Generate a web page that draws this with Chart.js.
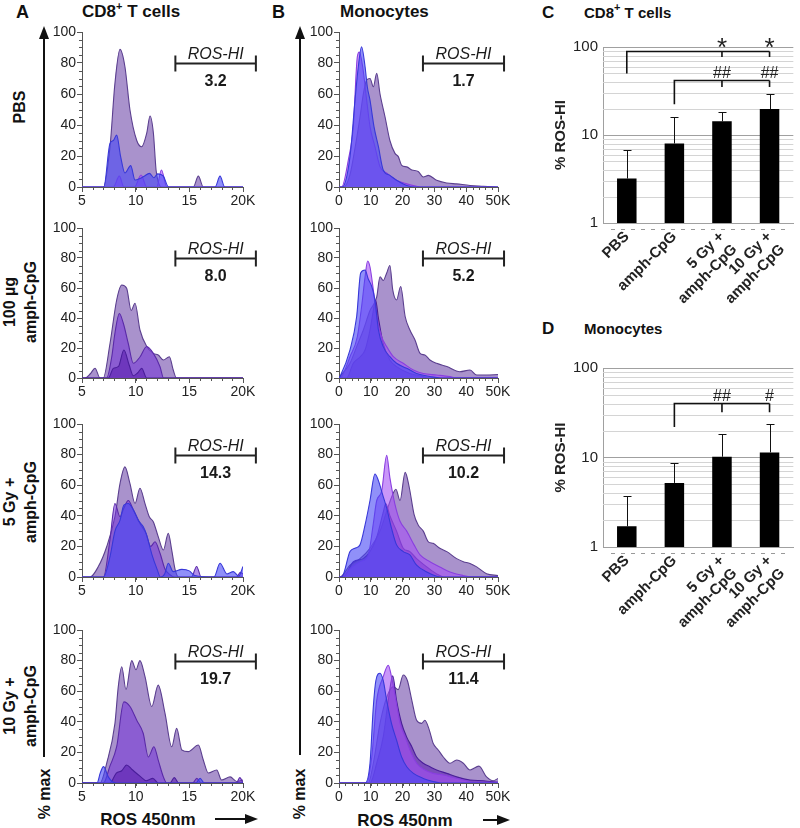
<!DOCTYPE html>
<html><head><meta charset="utf-8">
<script src="https://cdn.jsdelivr.net/npm/chart.js@4.4.1/dist/chart.umd.min.js"></script>
<style>
html,body{margin:0;padding:0;background:#fff;overflow:hidden}
#wrap{position:relative;width:800px;height:828px;font-family:"Liberation Sans",Arial,sans-serif;color:#111}
canvas{position:absolute}
.c{position:absolute;transform:translate(-50%,-50%);white-space:nowrap;font-weight:bold;line-height:1}
.l{position:absolute;white-space:nowrap;font-weight:bold;line-height:1}
.rot{position:absolute;transform:translate(-50%,-50%) rotate(-90deg);white-space:nowrap;font-weight:bold;text-align:center;font-size:16px;line-height:21px}
.ln{position:absolute;background:#111}
.up{position:absolute;width:0;height:0;border-left:5px solid transparent;border-right:5px solid transparent;border-bottom:13px solid #111}
.rt{position:absolute;width:0;height:0;border-top:5px solid transparent;border-bottom:5px solid transparent;border-left:13px solid #111}
sup{font-size:11px;line-height:0;vertical-align:7px}
</style></head>
<body><div id="wrap">
<div class="l" style="left:16px;top:3px;font-size:18px">A</div>
<div class="l" style="left:82px;top:3px;font-size:17px">CD8<sup>+</sup> T cells</div>
<div class="l" style="left:272px;top:3px;font-size:18px">B</div>
<div class="l" style="left:340px;top:3px;font-size:17px">Monocytes</div>
<div class="l" style="left:542px;top:4px;font-size:17px">C</div>
<div class="l" style="left:584px;top:5px;font-size:15px">CD8<sup>+</sup> T cells</div>
<div class="l" style="left:542px;top:320px;font-size:17px">D</div>
<div class="l" style="left:584px;top:321px;font-size:15px">Monocytes</div>

<div class="rot" style="left:19px;top:107px">PBS</div>
<div class="rot" style="left:20px;top:302px">100 µg<br>amph-CpG</div>
<div class="rot" style="left:20px;top:502px">5 Gy +<br>amph-CpG</div>
<div class="rot" style="left:20px;top:706px">10 Gy +<br>amph-CpG</div>

<div class="ln" style="left:43px;top:36px;width:1.6px;height:721px"></div>
<div class="up" style="left:39px;top:26px"></div>
<div class="ln" style="left:299px;top:36px;width:1.6px;height:719px"></div>
<div class="up" style="left:295px;top:26px"></div>
<div class="rot" style="left:44px;top:794px">% max</div>
<div class="rot" style="left:299px;top:794px">% max</div>

<div class="c" style="left:148px;top:819px;font-size:17px">ROS 450nm</div>
<div class="c" style="left:405px;top:820px;font-size:17px">ROS 450nm</div>
<div class="ln" style="left:215px;top:818px;width:32px;height:1.6px"></div>
<div class="rt" style="left:245px;top:814px"></div>
<div class="ln" style="left:483px;top:819px;width:16px;height:1.6px"></div>
<div class="rt" style="left:497px;top:815px"></div>
</div>
<script>
// ---------- tick labels / categories ----------
const xTicksA = [5, 10, 15, 20];
const xLabelsA = ['5', '10', '15', '20K'];
const xTicksB = [0, 10, 20, 30, 40, 50];
const xLabelsB = ['0', '10', '20', '30', '40', '50K'];
const yTicksHist = [0, 20, 40, 60, 80, 100];
const rosHiA = [3.2, 8.0, 14.3, 19.7];
const rosHiB = [1.7, 5.2, 10.2, 11.4];
const gateA = [13.7, 21.2];
const gateB = [26.4, 51.9];
const barCategories = ['PBS', 'amph-CpG', ['5 Gy +', 'amph-CpG'], ['10 Gy +', 'amph-CpG']];
const barC = [3.2, 8.0, 14.3, 19.7];
const errC = [6.8, 15.9, 18.1, 29.6];
const barD = [1.7, 5.2, 10.2, 11.4];
const errD = [3.7, 8.7, 18.3, 23.6];
const logTicks = [1, 10, 100];
const logMinor = [2,3,4,5,6,7,8,9,20,30,40,50,60,70,80,90];
const sigC = [
  {from: 0, to: 3, level: 90, leftEnd: 50, tickEnd: 77, marks: [[2, '*'], [3, '*']]},
  {from: 1, to: 3, level: 42.5, leftEnd: 22.3, tickEnd: 35, marks: [[2, '##'], [3, '##']]}
];
const sigD = [
  {from: 1, to: 3, level: 40.6, leftEnd: 21.9, tickEnd: 32, marks: [[2, '##'], [3, '#']]}
];

// ---------- histogram curves, [x (K), % max] ----------
const a1_lav = [[5,0],[6.99,0],[7.61,26],[8.07,67],[8.54,88.8],[9.0,77.6],[9.47,49.7],[10.1,30],[10.56,26],[11.03,34.8],[11.34,45.8],[11.65,34.8],[11.9,11],[12.1,3.5],[12.4,0],[15.37,0],[15.84,7],[16.3,0],[20,0]];
const a1_mag = [[5,0],[7.92,0],[8.48,7],[8.9,0],[9.9,0],[10.5,7.7],[11.03,0],[11.96,0],[12.4,11],[12.9,0],[20,0]];
const a1_blue = [[5,0],[7.03,0],[7.6,28],[7.92,30],[8.23,33.5],[8.6,19.6],[9.0,9],[9.54,13.8],[9.94,4.5],[10.4,5.5],[10.8,7],[11.28,8.8],[11.7,6],[12.05,8.5],[12.58,7],[13.07,0],[17.4,0],[17.86,7],[18.3,0],[20,0]];

const a2_lav = [[5,0],[5.28,0],[5.8,3],[6.21,6.5],[6.68,0],[6.98,0],[7.61,23],[8.23,52],[8.7,62],[9.16,59.8],[9.58,45],[9.94,49.8],[10.4,32],[11.03,21],[11.65,16.4],[12.1,15.3],[12.58,12],[13.14,14.2],[13.5,5.3],[13.8,0],[20,0]];
const a2_vio = [[5,0],[7.3,0],[7.77,14],[8.07,30],[8.48,43],[8.85,36.5],[9.31,23],[9.78,9.8],[10.4,14],[11.03,21],[11.65,16.4],[12.27,7.5],[12.6,0],[20,0]];
const a2_dark = [[5,0],[7.45,0],[7.92,6.4],[8.4,7.7],[8.9,18.7],[9.4,8.5],[9.78,1.5],[10.2,3.5],[10.56,6.4],[11.03,0],[20,0]];

const a3_lav = [[5,0],[5.75,0],[6.52,6.8],[7.3,19.8],[8.07,39.4],[8.54,61],[9.0,72],[9.47,61],[9.94,48],[10.4,58],[10.87,48],[11.27,39.4],[11.65,36],[12.1,26.4],[12.58,17.6],[13.04,28.5],[13.36,17.6],[13.67,5],[14.0,0],[20,0]];
const a3_vio = [[5,0],[7.0,0],[7.6,24],[8.07,48],[8.54,39.4],[8.9,45],[9.31,50],[9.78,44],[10.4,35],[10.96,28.5],[11.4,20],[11.8,23],[12.27,15.5],[12.74,5],[13.2,1.5],[13.6,0],[15.2,0],[15.68,6.9],[16.1,0],[19.4,0],[19.75,3],[20,2]];
const a3_blue = [[5,0],[7.0,0],[7.6,13],[8.07,30],[8.54,37],[8.9,47],[9.31,48],[9.78,44],[10.25,37],[10.7,33],[11.0,28],[11.5,15],[12.0,5],[12.3,0],[12.7,2],[13.04,9],[13.5,3.5],[14.3,5],[15.0,4],[15.5,1],[17.3,0],[17.86,9],[18.5,2],[19.1,3.5],[19.6,0.5],[20,6.8]];

const a4_lav = [[5,0],[6.68,0],[7.3,12.9],[8.07,39],[8.38,63],[8.7,76],[9.1,61],[9.63,80],[10.03,74],[10.4,80],[10.87,69.5],[11.5,50],[12.1,64],[12.73,45.6],[13.36,23.7],[13.82,35.7],[14.3,21.6],[14.9,20.5],[15.84,24.8],[16.3,15],[16.77,6.5],[17.55,8.5],[18.0,2],[18.8,4],[19.4,1],[20,2]];
const a4_vio = [[5,0],[7.0,0],[7.6,11],[8.23,23.7],[8.9,53],[9.47,50],[10.1,41],[10.7,32.5],[11.18,17],[11.7,23.7],[12.1,15],[12.58,4],[12.9,0],[15.3,0],[15.7,3],[16.1,0],[19.4,0],[19.7,3.5],[20,0]];
const a4_dark = [[5,0],[7.6,0],[8.2,6.5],[8.7,8],[9.16,11.8],[9.63,9],[10.4,4.5],[11.0,1.5],[11.6,3],[12.1,0],[13.2,0],[13.6,3.5],[14.0,0],[20,0]];
const a4_blue = [[5,0],[6.4,0],[6.7,6.5],[7.0,10.7],[7.45,4],[7.8,1],[8.2,0],[15.6,0],[16,3],[16.4,0],[20,0]];

const b1_lav = [[0,0],[1.5,0],[3.46,8],[5.03,25],[6.6,45],[7.65,60],[8.7,69],[9.75,70],[10.8,64.7],[11.86,73.3],[12.9,60],[14.5,45],[16.0,30],[17.6,21.7],[18.65,19.6],[19.7,14],[21.3,13],[22.9,11],[24.9,10],[26.5,6.5],[28.1,7.5],[30.7,4.3],[33.9,2.6],[37,2],[41.2,1],[45.4,0.5],[49.6,0],[50,0]];
const b1_mag = [[0,0],[0.84,0],[2.93,17.4],[4.5,39],[5.76,84],[6.4,87],[7.45,77.6],[8.7,56],[9.75,39],[11.3,26],[12.9,13],[15,9],[18.1,4.3],[21.3,2],[24.4,0.5],[26,0],[50,0]];
const b1_blue = [[0,0],[1.0,0],[3.46,19.6],[5.03,56],[6.07,77.6],[7.1,90.5],[8.2,77.6],[8.9,64.7],[9.75,56],[11.0,39],[12.4,26],[13.9,11],[16.0,7.5],[18.1,4.3],[21.3,1],[24.4,0],[50,0]];

const b2_lav = [[0,0],[0.31,0.9],[3.46,9.8],[5.56,20.9],[7.65,32],[9.75,45],[11.86,54],[12.9,67.5],[13.9,65],[15,70],[16,75],[16.9,58.7],[18.1,52],[19.4,61],[20.8,41],[22.3,32],[23.9,25.3],[25.5,16.4],[27,15.3],[28.6,12],[30.7,9.8],[33.9,7.6],[38,4.2],[41.2,5.3],[43.3,2],[46.4,2],[50,2.3]];
const b2_dark = [[0,0],[2.4,0],[4.5,9.8],[6.6,14],[8.2,18.7],[9.75,32],[10.8,45],[11.5,52],[12.4,40],[13.9,23],[16,12],[18.1,7.6],[22.3,3],[26.5,0.9],[28,0],[50,0]];
const b2_mag = [[0,0],[0.84,0.9],[3.46,14.2],[5.76,27.5],[7.1,47.5],[8.2,67.5],[9.0,78],[9.75,74],[10.8,58.7],[11.86,41],[13.4,27.5],[15,20.9],[17.1,14.2],[20.2,9.8],[23.4,5.3],[26.5,3],[30.7,2],[34.9,0.9],[37,0],[50,0]];
const b2_blue = [[0,0],[0.3,0.9],[3.46,18.7],[5.56,41],[6.82,70],[8.2,72],[9.2,66],[10.3,61],[11.3,52],[12.4,32],[13.9,20.9],[16,14.2],[18.1,9.8],[21.3,6.5],[24.4,3],[28.6,1],[32,0],[50,0]];

const b3_lav = [[0,0],[0.3,0],[3.46,7.7],[6.6,12],[9.75,18.8],[12.9,30],[15,43],[16.5,52],[17.9,57.4],[19.2,50],[20.8,68.4],[22.1,58.5],[23.6,41],[24.9,34],[26.5,30],[28.1,23],[29.6,22],[31.7,18.8],[33.9,16.6],[37,12],[39.1,10],[41.2,8.8],[43.3,6.6],[46.4,2.2],[50,1]];
const b3_dark = [[0,0],[1.4,0],[4.5,10],[7.6,12],[9.75,16.6],[11.86,26],[14,43],[14.7,48],[16,40],[18.1,30],[20.2,18.8],[22.3,16.6],[24.4,12],[27.6,6.6],[30.7,2],[33,0],[50,0]];
const b3_mag = [[0,0],[0.84,0],[3.46,5.5],[6.6,10],[9.2,14.4],[10.8,35],[11.86,50],[13.4,56],[15,79.5],[16,65],[17.6,47.5],[19.2,36.4],[21.3,30],[23.6,21],[25.5,14.4],[28.6,10],[31.7,6.6],[34.9,3.3],[39,1],[42,0],[50,0]];
const b3_blue = [[0,0],[0.84,0],[3.46,16.6],[5.0,18.8],[6.6,21],[8.2,34],[9.75,50],[11.3,67.3],[12.4,63],[13.7,54],[15,45],[16.5,32],[18.1,21],[20.2,16.6],[22.3,14.4],[24.4,7.7],[27.6,3.3],[30.7,0.5],[32,0],[50,0]];

const b4_lav = [[0,0],[9.2,0],[10.8,12.9],[12.9,39],[15,56],[17.1,63],[18.6,61],[20.2,70.6],[21.5,67],[22.9,54],[24.4,41],[26,39],[27,41],[28.4,34.6],[29.6,26],[31.2,21.6],[32.8,17],[34.9,12.9],[37,15],[39.1,12.9],[41.2,8.5],[44,11],[46.4,4],[48.5,1.5],[50,3]];
const b4_dark = [[0,0],[9.75,0],[11.86,12.9],[13.9,30],[15.5,54],[16.9,70],[18.1,54],[19.7,39],[21.3,30],[22.9,23.7],[24.4,17],[26.5,12.9],[28.6,10.6],[30.7,8.5],[33.9,6.3],[37,4],[41.2,2],[45.4,1.5],[50,0.5]];
const b4_mag = [[0,0],[8.7,0],[10.3,17],[11.86,54],[13.9,69.5],[15.5,77],[16.5,69.5],[17.9,54],[19.2,39],[20.8,30],[22.3,21.6],[24.4,12.9],[27,8.5],[29.6,6.3],[32.8,5.2],[35.9,3.6],[40,1.5],[42,0.5],[50,0.5]];
const b4_blue = [[0,0],[8.2,0],[9.75,12.9],[10.8,50],[11.6,67],[12.9,71.7],[13.9,67],[15,54],[16.5,39],[18.1,28],[19.7,17],[21.3,10.6],[23.4,6.3],[26.5,3],[29.6,1],[32,0],[50,0]];

// ---------- styles ----------
Chart.defaults.font.family = '"Liberation Sans", Arial, sans-serif';
const COLORS = {
  lav:  {fill: 'rgba(128,95,180,0.68)', line: '#5b3f8f'},
  dark: {fill: 'rgba(90,30,175,0.6)',  line: '#4a1e9a'},
  vio:  {fill: 'rgba(115,50,215,0.55)', line: '#5a2aa8'},
  mag:  {fill: 'rgba(165,80,245,0.6)',  line: '#8a3fe0'},
  blue: {fill: 'rgba(70,70,245,0.6)',  line: '#3838d8'}
};
const rowTop = [32, 228, 424, 630];
const rowBottom = [187, 378, 577, 783];
const wrap = document.getElementById('wrap');

const histDecor = {
  id: 'histDecor',
  afterDraw(chart, args, o) {
    const {ctx, scales: {x, y}} = chart;
    ctx.save();
    ctx.strokeStyle = '#555'; ctx.lineWidth = 1;
    for (let v = 5; v < 100; v += 5) {
      if (v % 20 === 0) continue;
      const py = Math.round(y.getPixelForValue(v)) + 0.5;
      ctx.beginPath(); ctx.moveTo(x.left - 3, py); ctx.lineTo(x.left, py); ctx.stroke();
    }
    for (let v = x.min; v <= x.max + 1e-6; v += o.minorX) {
      const px = Math.round(x.getPixelForValue(v)) + 0.5;
      ctx.beginPath(); ctx.moveTo(px, y.bottom); ctx.lineTo(px, y.bottom + 3); ctx.stroke();
    }
    const x1 = x.getPixelForValue(o.gate[0]), x2 = x.getPixelForValue(o.gate[1]);
    const gy = Math.round(y.getPixelForValue(80)) + 0.5;
    ctx.strokeStyle = '#222'; ctx.lineWidth = 2;
    ctx.beginPath();
    ctx.moveTo(x1, gy); ctx.lineTo(x2, gy);
    ctx.moveTo(x1, gy - 8); ctx.lineTo(x1, gy + 8);
    ctx.moveTo(x2, gy - 8); ctx.lineTo(x2, gy + 8);
    ctx.stroke();
    ctx.fillStyle = '#1a1a1a'; ctx.textAlign = 'center'; ctx.textBaseline = 'alphabetic';
    ctx.font = 'italic 16px "Liberation Sans", Arial, sans-serif';
    ctx.fillText('ROS-HI', (x1 + x2) / 2, gy - 5);
    ctx.font = 'bold 16px "Liberation Sans", Arial, sans-serif';
    ctx.fillText(o.value.toFixed(1), (x1 + x2) / 2, gy + 22);
    ctx.restore();
  }
};

function makeHist(c) {
  const top = rowTop[c.row] - 12;
  const h = rowBottom[c.row] - rowTop[c.row] + 12 + 22;
  const cv = document.createElement('canvas');
  cv.width = c.width; cv.height = h;
  cv.style.left = c.left + 'px'; cv.style.top = top + 'px';
  wrap.appendChild(cv);
  new Chart(cv, {
    type: 'line',
    data: {datasets: c.series.map(([key, pts], i, arr) => ({
      data: pts.map(([px, py]) => ({x: px, y: py})),
      backgroundColor: COLORS[key].fill, borderColor: COLORS[key].line,
      borderWidth: 1.1, fill: 'origin', pointRadius: 0,
      cubicInterpolationMode: 'monotone', order: arr.length - i
    }))},
    options: {
      responsive: false, animation: false, devicePixelRatio: 1,
      layout: {autoPadding: false, padding: {top: 12, right: c.padRight, left: 0, bottom: 0}},
      plugins: {legend: {display: false}, tooltip: {enabled: false},
        histDecor: {gate: c.gate, value: c.value, minorX: c.minorX}},
      scales: {
        x: {type: 'linear', min: c.xTicks[0], max: c.xTicks[c.xTicks.length - 1],
          afterBuildTicks: s => { s.ticks = c.xTicks.map(v => ({value: v})); },
          ticks: {callback: v => c.xLabels[c.xTicks.indexOf(v)], font: {size: 14}, color: '#222', padding: 1, maxRotation: 0, autoSkip: false},
          grid: {drawOnChartArea: false, drawTicks: true, tickLength: 5, color: '#555'},
          border: {color: '#555'},
          afterFit: s => { s.height = 22; }},
        y: {min: 0, max: 100,
          afterBuildTicks: s => { s.ticks = yTicksHist.map(v => ({value: v})); },
          ticks: {font: {size: 14}, color: '#222', padding: 1, autoSkip: false},
          grid: {drawOnChartArea: false, drawTicks: true, tickLength: 5, color: '#555'},
          border: {color: '#555'},
          afterFit: s => { s.width = c.yAxisW; }}
      }
    },
    plugins: [histDecor]
  });
}

const seriesA = [
  [['lav', a1_lav], ['mag', a1_mag], ['blue', a1_blue]],
  [['lav', a2_lav], ['vio', a2_vio], ['dark', a2_dark]],
  [['lav', a3_lav], ['vio', a3_vio], ['blue', a3_blue]],
  [['lav', a4_lav], ['vio', a4_vio], ['dark', a4_dark], ['blue', a4_blue]]
];
const seriesB = [
  [['lav', b1_lav], ['mag', b1_mag], ['blue', b1_blue]],
  [['lav', b2_lav], ['dark', b2_dark], ['mag', b2_mag], ['blue', b2_blue]],
  [['lav', b3_lav], ['dark', b3_dark], ['mag', b3_mag], ['blue', b3_blue]],
  [['lav', b4_lav], ['dark', b4_dark], ['mag', b4_mag], ['blue', b4_blue]]
];
for (let r = 0; r < 4; r++) {
  makeHist({row: r, left: 40, width: 230, yAxisW: 42, padRight: 27, xTicks: xTicksA, xLabels: xLabelsA,
    minorX: 1, gate: gateA, value: rosHiA[r], series: seriesA[r]});
  makeHist({row: r, left: 305, width: 225, yAxisW: 34, padRight: 32, xTicks: xTicksB, xLabels: xLabelsB,
    minorX: 2, gate: gateB, value: rosHiB[r], series: seriesB[r]});
}

// ---------- bar charts ----------
const barDecor = {
  id: 'barDecor',
  beforeDatasetsDraw(chart) {
    const {ctx, chartArea: a, scales: {y}} = chart;
    ctx.save(); ctx.strokeStyle = '#d4d4d4'; ctx.lineWidth = 1;
    logMinor.forEach(v => {
      const py = Math.round(y.getPixelForValue(v)) + 0.5;
      ctx.beginPath(); ctx.moveTo(a.left, py); ctx.lineTo(a.right, py); ctx.stroke();
    });
    ctx.restore();
  },
  afterDatasetsDraw(chart, args, o) {
    const {ctx, chartArea: a, scales: {x, y}} = chart;
    const vals = chart.data.datasets[0].data;
    ctx.save();
    ctx.strokeStyle = '#999'; ctx.setLineDash([4, 6]); ctx.lineWidth = 1;
    ctx.beginPath(); ctx.moveTo(a.left + 8, a.bottom + 6.5); ctx.lineTo(a.right - 4, a.bottom + 6.5); ctx.stroke();
    ctx.setLineDash([]);
    ctx.strokeStyle = '#111'; ctx.lineWidth = 1;
    o.err.forEach((e, i) => {
      const bx = Math.round(x.getPixelForValue(i)) + 0.5;
      const t = y.getPixelForValue(vals[i]), et = Math.round(y.getPixelForValue(e)) + 0.5;
      ctx.beginPath(); ctx.moveTo(bx, t); ctx.lineTo(bx, et); ctx.moveTo(bx - 4, et); ctx.lineTo(bx + 4, et); ctx.stroke();
    });
    ctx.lineWidth = 1.6; ctx.fillStyle = '#222'; ctx.textAlign = 'center'; ctx.textBaseline = 'alphabetic';
    o.sig.forEach(b => {
      const ly = Math.round(y.getPixelForValue(b.level)) + 0.5;
      const pl = x.getPixelForValue(b.from), pr = x.getPixelForValue(b.to);
      ctx.beginPath();
      ctx.moveTo(pl, y.getPixelForValue(b.leftEnd)); ctx.lineTo(pl, ly); ctx.lineTo(pr, ly);
      b.marks.forEach(([cat]) => { const px = x.getPixelForValue(cat); ctx.moveTo(px, ly); ctx.lineTo(px, y.getPixelForValue(b.tickEnd)); });
      ctx.stroke();
      b.marks.forEach(([cat, sym]) => {
        const px = x.getPixelForValue(cat);
        if (sym === '*') { ctx.font = '26px "Liberation Sans", Arial, sans-serif'; ctx.fillText(sym, px, ly + 4); }
        else { ctx.font = '16px "Liberation Sans", Arial, sans-serif'; ctx.fillText(sym, px, ly - 3); }
      });
    });
    ctx.restore();
  }
};

function makeBar(plotTop, plotBottom, values, errs, sig) {
  const cv = document.createElement('canvas');
  cv.width = 260; cv.height = plotBottom - plotTop + 20 + 100;
  cv.style.left = '540px'; cv.style.top = (plotTop - 20) + 'px';
  wrap.appendChild(cv);
  new Chart(cv, {
    type: 'bar',
    data: {labels: barCategories, datasets: [{data: values, backgroundColor: '#000', borderWidth: 0, barPercentage: 0.41, categoryPercentage: 1}]},
    options: {
      responsive: false, animation: false, devicePixelRatio: 1,
      layout: {autoPadding: false, padding: {top: 20, right: 0, left: 0, bottom: 0}},
      plugins: {legend: {display: false}, tooltip: {enabled: false}, barDecor: {err: errs, sig: sig}},
      scales: {
        y: {type: 'logarithmic', min: 1, max: 100,
          afterBuildTicks: s => { s.ticks = logTicks.map(v => ({value: v})); },
          ticks: {callback: v => String(v), font: {size: 15}, color: '#222', padding: 5, autoSkip: false},
          grid: {color: '#a0a0a0', drawTicks: false},
          border: {color: '#a0a0a0'},
          title: {display: true, text: '% ROS-HI', font: {size: 15, weight: 'bold'}, color: '#222', padding: {top: 12, bottom: 0}},
          afterFit: s => { s.width = 63; }},
        x: {ticks: {font: {size: 15, weight: 'bold'}, color: '#222', minRotation: 45, maxRotation: 45, padding: 5, autoSkip: false},
          grid: {display: false, drawTicks: false},
          border: {color: '#a0a0a0'},
          afterFit: s => { s.height = 100; }}
      }
    },
    plugins: [barDecor]
  });
}
makeBar(47, 223, barC, errC, sigC);
makeBar(368, 547, barD, errD, sigD);
</script>
</body></html>
